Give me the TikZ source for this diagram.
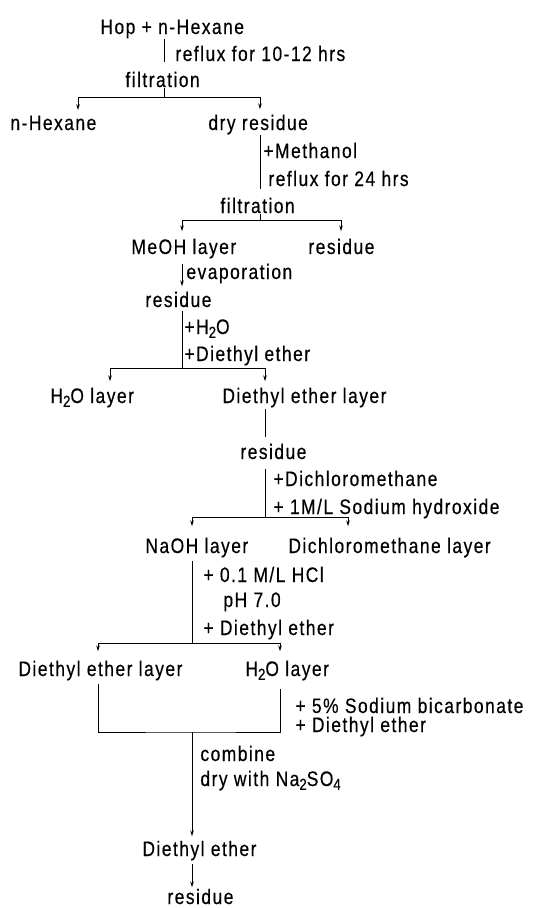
\documentclass[tikz,border=0pt]{standalone}
\usepackage{fontspec}
\setmainfont{Liberation Sans}[FakeStretch=0.83,LetterSpace=7,FakeBold=0.4]
\usetikzlibrary{arrows.meta,positioning}
\newcommand{\chsub}[1]{\raisebox{-0.35ex}{\fontsize{16}{16}\selectfont #1}}

\begin{document}
\begin{tikzpicture}[x=1pt,y=-1pt,line width=0.9pt,
	every node/.style={inner sep=0pt,anchor=base west,font=\fontsize{21}{24}\selectfont},
	arr/.style={-{Stealth[length=6pt,width=3.5pt]}}]
	\useasboundingbox (0,0) rectangle (548,908);
	\node (hop) at (100,34) {Hop + n-Hexane};
	\node (reflux1) at (175,61) {reflux for 10-12 hrs};
	\node (filt1) at (125,87) {filtration};
	\node (nhex) at (10,130) {n-Hexane};
	\node (dryres) at (208,130) {dry residue};
	\node (meth) at (263,158) {+Methanol};
	\node (reflux2) at (268,186) {reflux for 24 hrs};
	\node (filt2) at (220,213) {filtration};
	\node (meoh) at (131,254) {MeOH layer};
	\node (res2) at (308,254) {residue};
	\node (evap) at (186,279) {evaporation};
	\node (res3) at (145,307) {residue};
	\node (addw) at (184,334) {+H\chsub{2}O};
	\node (adde1) at (184,361) {+Diethyl ether};
	\node (wl1) at (50,403) {H\chsub{2}O layer};
	\node (el1) at (222,403) {Diethyl ether layer};
	\node (res4) at (240,459) {residue};
	\node (adddcm) at (273,486) {+Dichloromethane};
	\node (addnaoh) at (273,514) {+ 1M/L Sodium hydroxide};
	\node (naohl) at (145,553) {NaOH layer};
	\node (dcml) at (288,553) {Dichloromethane layer};
	\node (addhcl) at (203,582) {+ 0.1 M/L HCl};
	\node (ph) at (223,607) {pH 7.0};
	\node (adde2) at (203,635) {+ Diethyl ether};
	\node (el2) at (18,676) {Diethyl ether layer};
	\node (wl2) at (245,676) {H\chsub{2}O layer};
	\node (addbic) at (295,713) {+ 5\% Sodium bicarbonate};
	\node (adde3) at (295,732) {+ Diethyl ether};
	\node (comb) at (200,761) {combine};
	\node (dryna) at (200,786) {dry with Na\chsub{2}SO\chsub{4}};
	\node (eth) at (142,856) {Diethyl ether};
	\node (res5) at (167,904) {residue};
	\coordinate (j1) at (164,97);
	\coordinate (j2) at (260,220);
	\coordinate (j3) at (182,368);
	\coordinate (j4) at (265,517);
	\coordinate (j5) at (192,643);
	\coordinate (j6) at (192,732);
	\draw (hop.south -| j1) -- ([yshift=9pt]filt1.north -| j1);
	\draw (filt1.south -| j1) -- (j1);
	\draw[arr] (j1) -| ([xshift=68pt,yshift=5pt]nhex.north west);
	\draw[arr] (j1) -| ([xshift=52pt,yshift=5pt]dryres.north west);
	\draw ([xshift=52pt]dryres.south west) -- ([xshift=40pt,yshift=8pt]filt2.north west);
	\draw ([xshift=40pt]filt2.south west) -- (j2);
	\draw[arr] (j2) -| ([xshift=51pt,yshift=7pt]meoh.north west);
	\draw[arr] (j2) -| ([xshift=33pt,yshift=7pt]res2.north west);
	\draw[arr] ([xshift=51pt,yshift=-5pt]meoh.south west) -- ([xshift=37pt,yshift=5pt]res3.north west);
	\draw ([xshift=37pt,yshift=-3pt]res3.south west) -- (j3);
	\draw[arr] (j3) -| ([xshift=60pt,yshift=6pt]wl1.north west);
	\draw[arr] (j3) -| ([xshift=43pt,yshift=6pt]el1.north west);
	\draw ([xshift=43pt,yshift=-1pt]el1.south west) -- ([xshift=25pt,yshift=6pt]res4.north west);
	\draw ([xshift=25pt,yshift=-9pt]res4.south west) -- (j4);
	\draw[arr] (j4) -| ([xshift=47pt,yshift=11pt]naohl.north west);
	\draw[arr] (j4) -| ([xshift=60pt,yshift=11pt]dcml.north west);
	\draw ([xshift=47pt,yshift=-3pt]naohl.south west) -- (j5);
	\draw[arr] (j5) -| ([xshift=80pt,yshift=9pt]el2.north west);
	\draw[arr] (j5) -| ([xshift=35pt,yshift=9pt]wl2.north west);
	\draw ([xshift=80pt,yshift=-3pt]el2.south west) |- (j6) -| ([xshift=35pt,yshift=-8pt]wl2.south west);
	\draw[arr] (j6) -- ([xshift=50pt,yshift=4pt]eth.north west);
	\draw[arr] ([xshift=50pt,yshift=-3pt]eth.south west) -- ([xshift=25pt,yshift=1pt]res5.north west);
\end{tikzpicture}
\end{document}
